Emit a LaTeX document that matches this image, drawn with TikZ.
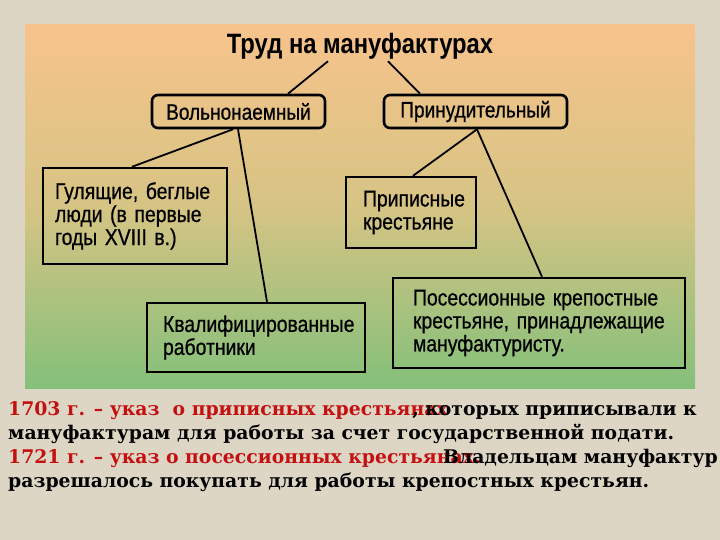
\documentclass[tikz,border=0pt]{standalone}
\usepackage{fontspec}
\setmainfont{Liberation Sans}
\newfontfamily\boxfont[FakeStretch=0.85,FakeBold=0.8]{Liberation Sans}
\newfontfamily\titlefont[FakeStretch=0.85]{Liberation Sans}
\newfontfamily\botfont{DejaVu Serif}
\usetikzlibrary{calc}
\definecolor{bgbeige}{RGB}{222,214,197}
\definecolor{ptop}{RGB}{247,195,140}
\definecolor{pmid}{RGB}{214,196,132}
\definecolor{pbot}{RGB}{132,192,122}
\definecolor{redtxt}{RGB}{196,16,16}
\tikzset{
  rbox/.style={draw=black, line width=2.6pt, rounded corners=6pt, inner sep=0pt,
    font=\boxfont\fontsize{22.4}{23}\selectfont},
  sbox/.style={draw=black, line width=2.4pt, inner sep=0pt, align=left,
    font=\boxfont\fontsize{22.8}{23}\selectfont},
  conn/.style={draw=black, line width=1.8pt},
  bottxt/.style={inner sep=0pt, font=\botfont\bfseries\fontsize{18.8}{18}\selectfont},
}
\begin{document}
\begin{tikzpicture}[x=1pt,y=-1pt]
\useasboundingbox (0,0) rectangle (720,540);
\fill[bgbeige] (0,0) rectangle (720,540);
\shade[top color=ptop, bottom color=pbot, middle color=pmid] (25,25) rectangle (695,388);

\node[inner sep=0pt, font=\titlefont\bfseries\fontsize{28}{30}\selectfont] (title) at (360,46) {Труд на мануфактурах};

\node[rbox, minimum width=173pt, minimum height=33pt] (vol) at (238.5,111.5) {Вольнонаемный};
\node[rbox, minimum width=183pt, minimum height=33pt] (pri) at (475.5,111.5) {Принудительный};

\node[sbox, minimum width=184pt, minimum height=96pt, text width=160pt] (gul) at (135,216)
  {Гулящие, беглые\\люди (в первые\\годы XVIII в.)};
\node[sbox, minimum width=218pt, minimum height=69pt, text width=186pt] (kval) at (256,337.5)
  {Квалифицированные\\работники};
\node[sbox, minimum width=130pt, minimum height=71pt, text width=96pt] (pripis) at (411,212.5)
  {Приписные\\крестьяне};
\node[sbox, minimum width=292pt, minimum height=90pt, text width=252pt] (poses) at (539,323)
  {Посессионные крепостные\\крестьяне, принадлежащие\\мануфактуристу.};

\draw[conn] ($(title.south)+(-32,2)$) -- ($(vol.north)+(49.5,0)$);
\draw[conn] ($(title.south)+(28,2)$) -- ($(pri.north)+(-55.5,0)$);
\draw[conn] ($(vol.south)+(-5.5,0)$) -- ($(gul.north)+(-3,0)$);
\draw[conn] ($(vol.south)+(-0.5,0)$) -- ($(kval.north)+(11,0)$);
\draw[conn] ($(pri.south)+(1.5,0)$) -- ($(pripis.north)+(2,0)$);
\draw[conn] ($(pri.south)+(1.5,0)$) -- ($(poses.north)+(3,0)$);

\node[bottxt, anchor=base west, text=redtxt] (r1) at (8,415) {1703 г. – указ\ \ о приписных крестьянах};
\node[bottxt, anchor=base east, text=black] (b1) at (697,415) {, которых приписывали к};
\node[bottxt, anchor=base west, text=black] (b2) at (8,439) {мануфактурам для работы за счет государственной подати.};
\node[bottxt, anchor=base west, text=redtxt] (r3) at (8,463) {1721 г. – указ о посессионных крестьянах.};
\node[bottxt, anchor=base east, text=black] (b3) at (718,463) {Владельцам мануфактур};
\node[bottxt, anchor=base west, text=black] (b4) at (8,487) {разрешалось покупать для работы крепостных крестьян.};
\end{tikzpicture}
\end{document}
